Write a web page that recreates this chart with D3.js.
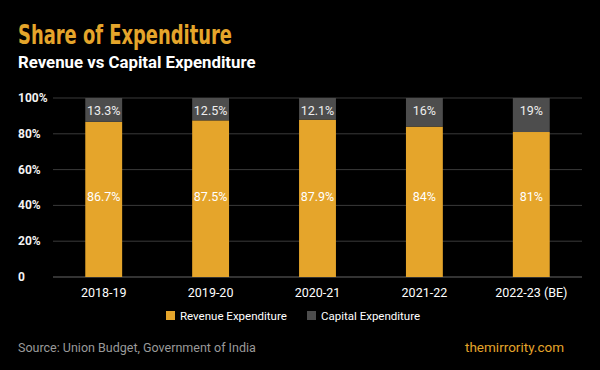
<!DOCTYPE html>
<html>
<head>
<meta charset="utf-8">
<script src="https://cdn.jsdelivr.net/npm/d3@7"></script>
<style>
  body { margin: 0; background: #000; }
  svg { display: block; font-family: Roboto, "Noto Sans", sans-serif; }
</style>
</head>
<body>
<div id="chart"></div>
<script>
/* DATA */
const years = ["2018-19", "2019-20", "2020-21", "2021-22", "2022-23 (BE)"];
const revenue = [86.7, 87.5, 87.9, 84, 81];
const capital = [13.3, 12.5, 12.1, 16, 19];
const revenueLabels = ["86.7%", "87.5%", "87.9%", "84%", "81%"];
const capitalLabels = ["13.3%", "12.5%", "12.1%", "16%", "19%"];
const yTicks = [0, 20, 40, 60, 80, 100];
const seriesNames = ["Revenue Expenditure", "Capital Expenditure"];

const width = 600, height = 370;
const margin = { top: 98, bottom: 93, left: 50, right: 15 };
const orange = "#e5a52b", grey = "#4d4d4d";

const svg = d3.select("#chart")
  .append("svg")
  .attr("width", width)
  .attr("height", height)
  .style("background-color", "#000");

// scales
const xScale = d3.scaleBand()
  .domain(years)
  .range([margin.left, width - margin.right])
  .paddingInner(0.655)
  .paddingOuter(0.33);

const yScale = d3.scaleLinear()
  .domain([0, 100])
  .range([height - margin.bottom, margin.top]);

// title
svg.append("text")
  .attr("x", 18).attr("y", 44)
  .attr("fill", orange)
  .attr("font-family", "'DejaVu Sans Condensed', 'Liberation Sans Narrow', sans-serif")
  .attr("font-weight", "bold")
  .attr("font-size", 26)
  .attr("textLength", 214)
  .attr("lengthAdjust", "spacingAndGlyphs")
  .text("Share of Expenditure");

svg.append("text")
  .attr("x", 18).attr("y", 68)
  .attr("fill", "#fff")
  .attr("font-weight", "bold")
  .attr("font-size", 16.8)
  .text("Revenue vs Capital Expenditure");

// gridlines
svg.append("g")
  .selectAll("line")
  .data(yTicks)
  .join("line")
  .attr("x1", 53).attr("x2", 582)
  .attr("y1", d => yScale(d)).attr("y2", d => yScale(d))
  .attr("stroke", d => d === 0 ? "#666" : "#3a3a3a")
  .attr("stroke-width", 1);

// y labels
svg.append("g")
  .selectAll("text")
  .data(yTicks)
  .join("text")
  .attr("x", 18)
  .attr("y", d => yScale(d) + 4)
  .attr("fill", "#f2f2f2")
  .attr("font-weight", "bold")
  .attr("font-size", 12)
  .text(d => d === 0 ? "0" : d + "%");

// bars
const bars = svg.append("g");
bars.selectAll("rect.rev")
  .data(years)
  .join("rect")
  .attr("class", "rev")
  .attr("x", d => xScale(d))
  .attr("width", xScale.bandwidth())
  .attr("y", (d, i) => yScale(revenue[i]))
  .attr("height", (d, i) => yScale(0) - yScale(revenue[i]))
  .attr("fill", orange);

bars.selectAll("rect.cap")
  .data(years)
  .join("rect")
  .attr("class", "cap")
  .attr("x", d => xScale(d))
  .attr("width", xScale.bandwidth())
  .attr("y", (d, i) => yScale(revenue[i] + capital[i]))
  .attr("height", (d, i) => yScale(revenue[i]) - yScale(revenue[i] + capital[i]))
  .attr("fill", grey);

// bar labels (sit at a fixed height inside each segment)
bars.selectAll("text.rev")
  .data(years)
  .join("text")
  .attr("class", "rev")
  .attr("x", d => xScale(d) + xScale.bandwidth() / 2)
  .attr("y", yScale(45) + 4.5)
  .attr("text-anchor", "middle")
  .attr("fill", "#fff")
  .attr("font-size", 12.5)
  .text((d, i) => revenueLabels[i]);

bars.selectAll("text.cap")
  .data(years)
  .join("text")
  .attr("class", "cap")
  .attr("x", d => xScale(d) + xScale.bandwidth() / 2)
  .attr("y", (d, i) => yScale(revenue[i] + capital[i]) + 17)
  .attr("text-anchor", "middle")
  .attr("fill", "#eee")
  .attr("font-size", 12.5)
  .text((d, i) => capitalLabels[i]);

// x axis labels
const xAxis = d3.axisBottom(xScale).tickSize(0).tickPadding(11);
svg.append("g")
  .attr("transform", `translate(0, ${yScale(0)})`)
  .call(xAxis)
  .call(g => g.select(".domain").remove())
  .call(g => g.selectAll("text")
    .attr("fill", "#fff")
    .attr("font-size", 12.5)
    .attr("font-family", "Roboto, sans-serif"));

// legend
const legendX = [166, 307];
const legend = svg.append("g");
legend.selectAll("rect")
  .data(seriesNames)
  .join("rect")
  .attr("x", (d, i) => legendX[i])
  .attr("y", 311)
  .attr("width", 9).attr("height", 9)
  .attr("fill", (d, i) => i === 0 ? orange : grey);
legend.selectAll("text")
  .data(seriesNames)
  .join("text")
  .attr("x", (d, i) => legendX[i] + 14)
  .attr("y", 320)
  .attr("fill", "#fff")
  .attr("font-size", 11.5)
  .text(d => d);

// footer
svg.append("text")
  .attr("x", 18).attr("y", 352)
  .attr("fill", "#9a9a9a")
  .attr("font-size", 12.5)
  .text("Source: Union Budget, Government of India");

svg.append("text")
  .attr("x", 564).attr("y", 352)
  .attr("text-anchor", "end")
  .attr("fill", orange)
  .attr("font-size", 13.5)
  .text("themirrority.com");
</script>
</body>
</html>
